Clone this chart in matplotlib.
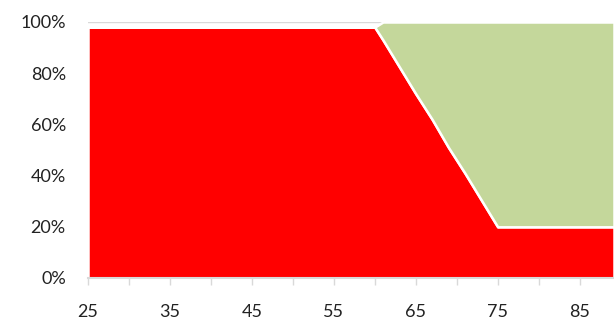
import matplotlib.pyplot as plt
from matplotlib.ticker import MultipleLocator, PercentFormatter

plt.rcParams['font.family'] = ['Lato', 'DejaVu Sans']

# ages (x) and shares
ages = [25, 60, 61, 63, 65, 67, 69, 71, 73, 75, 89.2]
red_share = [98, 98, 93, 82.5, 72, 62, 51, 41, 30.5, 20, 20]
green_share = [0, 0, 7, 17.5, 28, 38, 49, 59, 69.5, 80, 80]

fig = plt.figure(figsize=(6.14, 3.22), dpi=100)
ax = fig.add_axes([88 / 614, 44 / 322, 1 - 88 / 614, 256 / 322])

ax.stackplot(ages, red_share, green_share,
             colors=['#ff0000', '#c4d79b'],
             edgecolor='white', linewidth=1.8, zorder=2)

ax.set_xlim(25, 89.2)
ax.set_ylim(0, 100)

ax.yaxis.set_major_locator(MultipleLocator(20))
ax.yaxis.set_major_formatter(PercentFormatter(decimals=0))
ax.grid(axis='y', color='#d9d9d9', linewidth=1, zorder=0)
ax.set_axisbelow(True)

ax.set_xticks([25, 35, 45, 55, 65, 75, 85])
ax.xaxis.set_minor_locator(MultipleLocator(5))
ax.tick_params(axis='x', which='both', length=5, color='#d9d9d9',
               width=1, labelsize=13, pad=14, labelcolor='#222222')
ax.tick_params(axis='y', length=0, labelsize=13, pad=16, labelcolor='#222222')

for side in ['top', 'right', 'left']:
    ax.spines[side].set_visible(False)
ax.spines['bottom'].set_color('#d9d9d9')
ax.spines['bottom'].set_linewidth(1.5)
ax.spines['bottom'].set_zorder(3)

plt.savefig('out.png', dpi=100)
